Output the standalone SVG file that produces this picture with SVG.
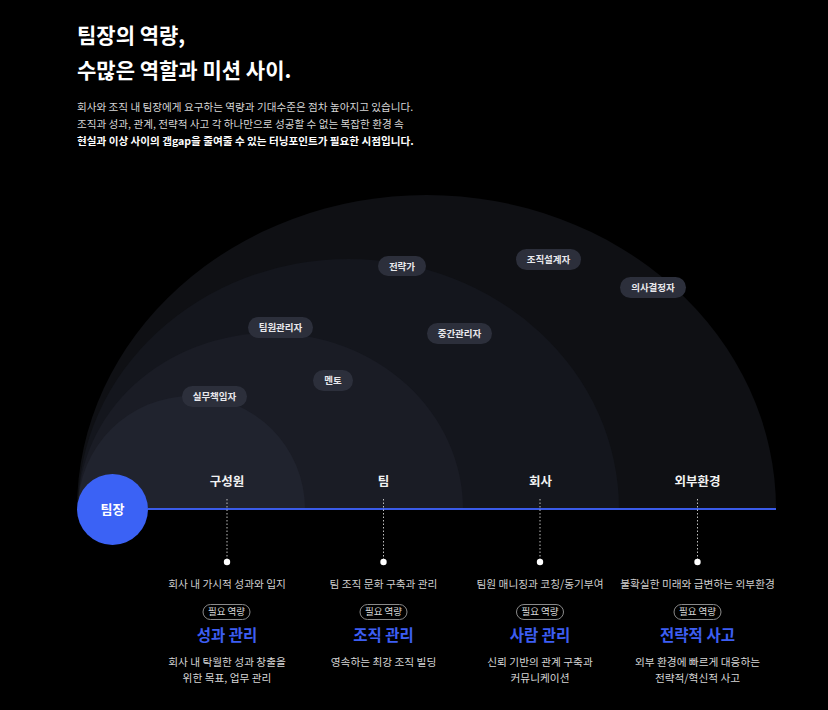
<svg xmlns="http://www.w3.org/2000/svg" width="828" height="710" viewBox="0 0 828 710">
<style>
text{font-family:"Noto Sans CJK KR","Noto Sans",sans-serif}
.h1{font-size:21px;font-weight:700;fill:#ffffff}
.p{font-size:10.6px;fill:#d6d6d6}
.pb{font-size:10.6px;font-weight:700;fill:#ffffff}
.tag rect{fill:#2c2f3b}
.tag text{font-size:9.5px;font-weight:700;fill:#e8e8ec;text-anchor:middle}
.lvl{font-size:12.5px;font-weight:700;fill:#f2f2f2;text-anchor:middle}
.ctx{font-size:10.7px;fill:#cfcfcf;text-anchor:middle}
.need rect{fill:none;stroke:#8a8a8a;stroke-width:1}
.need text{font-size:9.5px;fill:#d8d8d8;text-anchor:middle}
.cap{font-size:15.5px;font-weight:700;fill:#3d5ef2;text-anchor:middle}
.desc{font-size:10.7px;fill:#d6d6d6;text-anchor:middle}
.dot{stroke:#bdbdbd;stroke-width:1;stroke-dasharray:1.5 2}
</style>
<rect width="828" height="710" fill="#000"/>
<g id="title">
<text class="h1" x="77" y="43">팀장의 역량,</text>
<text class="h1" x="77" y="78">수많은 역할과 미션 사이.</text>
<text class="p" x="77" y="111">회사와 조직 내 팀장에게 요구하는 역량과 기대수준은 점차 높아지고 있습니다.</text>
<text class="p" x="77" y="128">조직과 성과, 관계, 전략적 사고 각 하나만으로 성공할 수 없는 복잡한 환경 속</text>
<text class="pb" x="77" y="145">현실과 이상 사이의 갭gap을 줄여줄 수 있는 터닝포인트가 필요한 시점입니다.</text>
</g>
<g id="domes">
<path d="M77 509 A349.5 314 0 0 1 776 509 Z" fill="#0f1014"/>
<path d="M78 509 A270.5 250 0 0 1 619 509 Z" fill="#14161d"/>
<path d="M78 509 A192.5 176 0 0 1 463 509 Z" fill="#1a1c25"/>
<path d="M78 509 A113.5 113 0 0 1 305 509 Z" fill="#20232e"/>
</g>
<g id="roles">
<g class="tag" id="r-strategist"><rect x="378" y="256" width="48" height="20" rx="10"/><text x="402" y="269.5">전략가</text></g>
<g class="tag" id="r-teammgr"><rect x="248" y="317" width="65" height="21" rx="10.5"/><text x="280.5" y="330.8">팀원관리자</text></g>
<g class="tag" id="r-midmgr"><rect x="427" y="323" width="65" height="21" rx="10.5"/><text x="459.5" y="336.8">중간관리자</text></g>
<g class="tag" id="r-mentor"><rect x="313" y="370" width="40" height="21" rx="10.5"/><text x="333" y="383.8">멘토</text></g>
<g class="tag" id="r-owner"><rect x="182" y="386" width="65" height="21" rx="10.5"/><text x="214.5" y="399.8">실무책임자</text></g>
<g class="tag" id="r-designer"><rect x="516" y="249" width="65" height="21" rx="10.5"/><text x="548.5" y="262.8">조직설계자</text></g>
<g class="tag" id="r-decider"><rect x="620" y="277" width="66" height="21" rx="10.5"/><text x="653" y="290.8">의사결정자</text></g>
</g>
<g id="connectors">
<line x1="148" y1="509" x2="776" y2="509" stroke="#3a5be8" stroke-width="2"/>
<line class="dot" x1="227" y1="499" x2="227" y2="560"/>
<line class="dot" x1="383.5" y1="499" x2="383.5" y2="560"/>
<line class="dot" x1="540" y1="499" x2="540" y2="560"/>
<line class="dot" x1="697.5" y1="499" x2="697.5" y2="560"/>
<circle cx="227" cy="562" r="3.2" fill="#fff"/>
<circle cx="383.5" cy="562" r="3.2" fill="#fff"/>
<circle cx="540" cy="562" r="3.2" fill="#fff"/>
<circle cx="697.5" cy="562" r="3.2" fill="#fff"/>
</g>
<g id="leader">
<circle cx="112.5" cy="509.5" r="35.5" fill="#3b62f5"/>
<text x="112.5" y="514" font-size="13" font-weight="700" fill="#fff" text-anchor="middle">팀장</text>
</g>
<g id="col-member">
<text class="lvl" x="227" y="486">구성원</text>
<text class="ctx" x="227" y="588">회사 내 가시적 성과와 입지</text>
<g class="need"><rect x="203" y="604.5" width="47" height="15" rx="7.5"/><text x="226.5" y="615.3">필요 역량</text></g>
<text class="cap" x="227" y="641">성과 관리</text>
<text class="desc" x="227" y="666">회사 내 탁월한 성과 창출을</text>
<text class="desc" x="227" y="682">위한 목표, 업무 관리</text>
</g>
<g id="col-team">
<text class="lvl" x="383.5" y="486">팀</text>
<text class="ctx" x="383.5" y="588">팀 조직 문화 구축과 관리</text>
<g class="need"><rect x="360" y="604.5" width="47" height="15" rx="7.5"/><text x="383.5" y="615.3">필요 역량</text></g>
<text class="cap" x="383.5" y="641">조직 관리</text>
<text class="desc" x="383.5" y="666">영속하는 최강 조직 빌딩</text>
</g>
<g id="col-company">
<text class="lvl" x="540.5" y="486">회사</text>
<text class="ctx" x="540" y="588">팀원 매니징과 코칭/동기부여</text>
<g class="need"><rect x="516.5" y="604.5" width="47" height="15" rx="7.5"/><text x="540" y="615.3">필요 역량</text></g>
<text class="cap" x="540" y="641">사람 관리</text>
<text class="desc" x="540" y="666">신뢰 기반의 관계 구축과</text>
<text class="desc" x="540" y="682">커뮤니케이션</text>
</g>
<g id="col-external">
<text class="lvl" x="697.5" y="486">외부환경</text>
<text class="ctx" x="697.5" y="588">불확실한 미래와 급변하는 외부환경</text>
<g class="need"><rect x="674" y="604.5" width="47" height="15" rx="7.5"/><text x="697.5" y="615.3">필요 역량</text></g>
<text class="cap" x="697.5" y="641">전략적 사고</text>
<text class="desc" x="697.5" y="666">외부 환경에 빠르게 대응하는</text>
<text class="desc" x="697.5" y="682">전략적/혁신적 사고</text>
</g>
</svg>
